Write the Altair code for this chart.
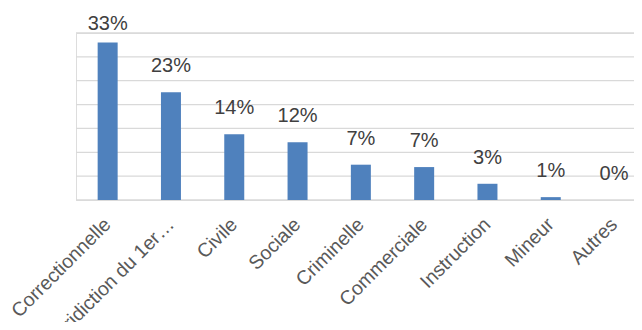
import altair as alt
import pandas as pd

categories = ["Correctionnelle", "Juridiction du 1er…", "Civile", "Sociale",
              "Criminelle", "Commerciale", "Instruction", "Mineur", "Autres"]
shares = [0.330, 0.226, 0.138, 0.121, 0.074, 0.069, 0.034, 0.006, 0.0]
grid_values = [0, 0.05, 0.10, 0.15, 0.20, 0.25, 0.30, 0.35]

df = pd.DataFrame({"cat": categories, "share": shares})
grid_df = pd.DataFrame({"g": grid_values})

FONT = "Liberation Sans"

yscale = alt.Scale(domain=[0, 0.35], nice=False)

x = alt.X("cat:N", sort=categories, title=None,
          scale=alt.Scale(paddingInner=0.68, paddingOuter=0.2475, align=0.687),
          axis=alt.Axis(labelAngle=-45, labelAlign="right", labelBaseline="middle",
                        labelPadding=21, ticks=False, domain=False,
                        labelFont=FONT, labelFontSize=19.5, labelColor="#595959",
                        labelLimit=300))

grid = alt.Chart(grid_df).mark_rule(color="#D9D9D9", strokeWidth=1.3).encode(
    y=alt.Y("g:Q", scale=yscale, axis=None),
)

bars = alt.Chart(df).mark_bar(color="#4F81BD", size=20).encode(
    x=x, y=alt.Y("share:Q", scale=yscale, axis=None)
)

labels = alt.Chart(df).transform_calculate(
    ly="min(datum.share + 0.0356, 0.35)"
).mark_text(baseline="bottom", dy=1, font=FONT, fontSize=20, color="#404040").encode(
    x=alt.X("cat:N", sort=categories),
    y=alt.Y("ly:Q", scale=yscale, axis=None),
    text=alt.Text("share:Q", format=".0%"),
)

chart = alt.layer(grid, bars, labels).properties(
    width=558, height=167,
    autosize=alt.AutoSizeParams(type="none"),
    padding={"left": 68, "top": 25, "right": 0, "bottom": 122},
).configure_view(stroke=None).configure(background="white")

chart.save("out.html", embed_options={"renderer": "svg", "actions": False})
